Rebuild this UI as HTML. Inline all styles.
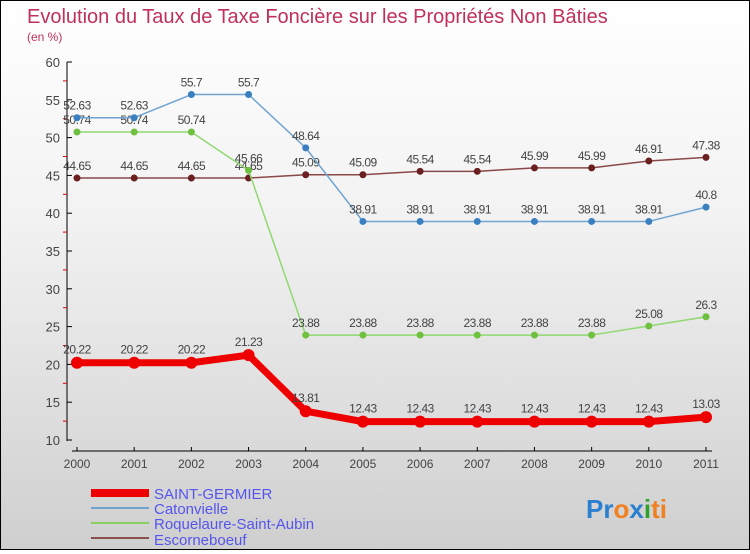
<!DOCTYPE html>
<html><head><meta charset="utf-8"><style>
body{margin:0}
#c{width:748px;height:548px;border:1px solid #000;background:linear-gradient(#ffffff,#f2f2f2 40%,#cfcfcf);position:relative;font-family:"Liberation Sans",sans-serif}
text{font-family:"Liberation Sans",sans-serif}
</style></head><body>
<div id="c">
<svg id="s" width="748" height="548">
<text x="26" y="22" font-size="20" fill="#c0305a">Evolution du Taux de Taxe Foncière sur les Propriétés Non Bâties</text>
<text x="26" y="40" font-size="12" fill="#c0305a">(en %)</text>
<g id="axes"></g><g id="series"></g>
<g>
<rect x="90" y="488" width="58" height="8" fill="#e00"/>
<text x="153" y="498" font-size="15" fill="#5555ee">SAINT-GERMIER</text>
<rect x="90" y="506" width="58" height="2" fill="#6fa3d0"/>
<text x="153" y="513" font-size="15" fill="#5555ee">Catonvielle</text>
<rect x="90" y="521" width="58" height="2" fill="#88d060"/>
<text x="153" y="528" font-size="15" fill="#5555ee">Roquelaure-Saint-Aubin</text>
<rect x="90" y="536" width="58" height="2" fill="#8a5050"/>
<text x="153" y="544" font-size="15" fill="#5555ee">Escorneboeuf</text>
</g>
<text x="585" y="517" font-size="26" font-weight="bold"><tspan fill="#2a7fd0">Pr</tspan><tspan fill="#f08020">o</tspan><tspan fill="#2a7fd0">x</tspan><tspan fill="#30a030">i</tspan><tspan fill="#f08020">ti</tspan></text>
</svg></div>
<script>
const years=[2000,2001,2002,2003,2004,2005,2006,2007,2008,2009,2010,2011];
const yTicks=[10,15,20,25,30,35,40,45,50,55,60];
const saintGermier=[20.22,20.22,20.22,21.23,13.81,12.43,12.43,12.43,12.43,12.43,12.43,13.03];
const catonvielle=[52.63,52.63,55.7,55.7,48.64,38.91,38.91,38.91,38.91,38.91,38.91,40.8];
const roquelaure=[50.74,50.74,50.74,45.66,23.88,23.88,23.88,23.88,23.88,23.88,25.08,26.3];
const escorneboeuf=[44.65,44.65,44.65,44.65,45.09,45.09,45.54,45.54,45.99,45.99,46.91,47.38];
const NS="http://www.w3.org/2000/svg";
const X=i=>76+i*(705-76)/(years.length-1);
const Y=v=>439-(v-10)*(439-61)/50;
function mk(p,t,a){const e=document.createElementNS(NS,t);for(const k in a)e.setAttribute(k,a[k]);p.appendChild(e);return e;}
const ax=document.getElementById('axes');
let l=mk(ax,'line',{x1:66,y1:61,x2:66,y2:440,stroke:'#000'});


l=mk(ax,'line',{x1:71,y1:450,x2:711,y2:450,stroke:'#000'});


yTicks.forEach((v,i)=>{
 mk(ax,'line',{x1:66,y1:Y(v),x2:71,y2:Y(v),stroke:'#000'});
 if(i<yTicks.length-1) mk(ax,'line',{x1:62,y1:Y(v+2.5),x2:66,y2:Y(v+2.5),stroke:'#d00'});
 const t=mk(ax,'text',{x:59,y:Y(v)+5,'font-size':13,fill:'#444','text-anchor':'end'});
 t.textContent=v;
 
 
});
years.forEach((y,i)=>{
 mk(ax,'line',{x1:X(i),y1:446,x2:X(i),y2:450,stroke:'#000'});
 const t=mk(ax,'text',{x:X(i),y:467,'font-size':12,fill:'#444','text-anchor':'middle'});
 t.textContent=y;
 
 
});
const sg=document.getElementById('series');
function draw(vals,color,dot,w,r,name,lblOff){
 const g=mk(sg,'g',{});
 
 
 const p=mk(g,'polyline',{points:vals.map((v,i)=>X(i)+','+Y(v)).join(' '),fill:'none',stroke:color,'stroke-width':w,'stroke-linejoin':'round'});
 
 
 vals.forEach((v,i)=>{
  const c=mk(g,'circle',{cx:X(i),cy:Y(v),r:r,fill:dot});
  
  
  const t=mk(g,'text',{x:X(i),y:Y(v)+lblOff,'font-size':12,fill:'#444','text-anchor':'middle','letter-spacing':'-0.5'});
  t.textContent=v;
  
  
 });
}
draw(escorneboeuf,'#8a4848','#6a2020',1.5,3.5,'escorneboeuf',-8);
draw(roquelaure,'#90d870','#70c040',1.5,3.5,'roquelaure',-8);
draw(catonvielle,'#6fa3d0','#3a80c0',1.5,3.5,'catonvielle',-8);
draw(saintGermier,'#ee0000','#ee0000',7,6,'saint-germier',-9);
</script>
</body></html>
